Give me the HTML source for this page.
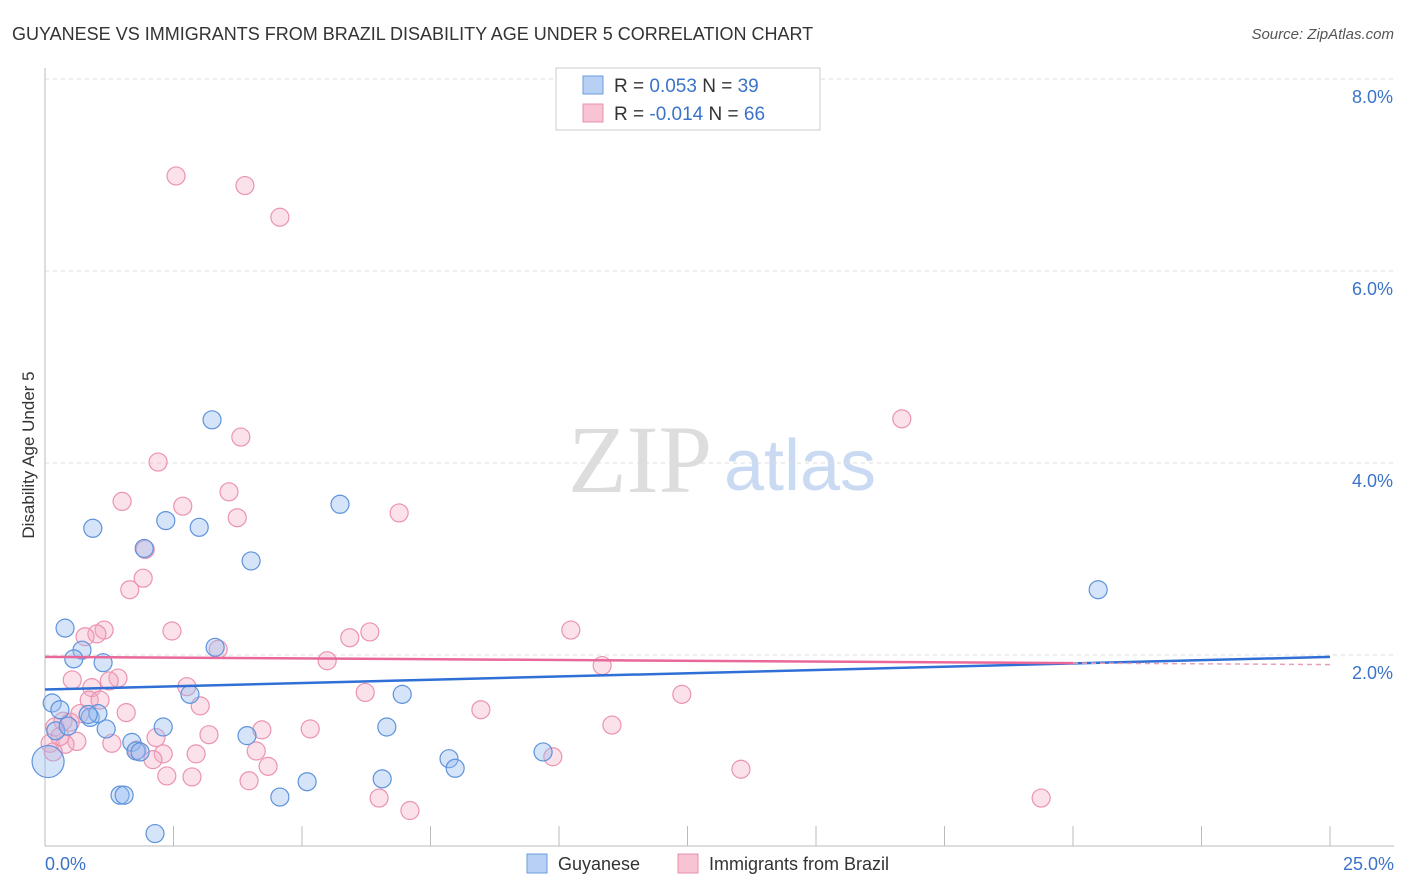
<!DOCTYPE html>
<html><head><meta charset="utf-8"><style>
body{margin:0;background:#fff;font-family:"Liberation Sans",sans-serif}
svg{display:block}
</style></head><body>
<svg id="c" width="1406" height="892">
<text x="12" y="40" font-size="18" fill="#333">GUYANESE VS IMMIGRANTS FROM BRAZIL DISABILITY AGE UNDER 5 CORRELATION CHART</text>
<text x="1394" y="39" font-size="15" fill="#555" font-style="italic" text-anchor="end">Source: ZipAtlas.com</text>
<text x="34" y="455" font-size="17" fill="#333" text-anchor="middle" transform="rotate(-90 34 455)">Disability Age Under 5</text>
<text x="640" y="492" font-size="96" fill="#ddd" font-family="Liberation Serif,serif" text-anchor="middle">ZIP</text>
<text x="800" y="490" font-size="72" fill="#c9daf2" text-anchor="middle">atlas</text>
<g id="grid"></g><g id="pts"></g><g id="lines"></g>
<g>
<rect x="556" y="68" width="264" height="62" fill="#fff" stroke="#ccc"/>
<rect x="583" y="76" width="20" height="18" fill="#b7d0f3" stroke="#6b9be0"/>
<text x="614" y="92" font-size="19" fill="#333">R =  <tspan fill="#3b73c9"> 0.053</tspan>    N = <tspan fill="#3b73c9">39</tspan></text>
<rect x="583" y="104" width="20" height="18" fill="#f8c3d3" stroke="#e991ae"/>
<text x="614" y="120" font-size="19" fill="#333">R =  <tspan fill="#3b73c9">-0.014</tspan>    N = <tspan fill="#3b73c9">66</tspan></text>
</g>
<g>
<rect x="527" y="854" width="20" height="19" fill="#b7d0f3" stroke="#6b9be0"/>
<text x="558" y="870" font-size="18" fill="#333">Guyanese</text>
<rect x="678" y="854" width="20" height="19" fill="#f8c3d3" stroke="#e991ae"/>
<text x="709" y="870" font-size="18" fill="#333">Immigrants from Brazil</text>
</g>
</svg>
<script>
const yTicks=[2,4,6,8];
const xMin=0,xMax=25,yMin=0,yMax=8;
const bluePx=[[212,420],[93,528],[166,521],[199,527],[144,548],[251,561],[340,504],[1098,590],[65,628],[82,650],[74,659],[103,663],[215,647],[190,694],[402,694],[52,703],[60,710],[90,717],[98,714],[106,729],[163,727],[247,736],[387,727],[56,731],[132,742],[136,751],[543,752],[449,759],[455,768],[307,782],[382,779],[280,797],[120,795],[124,795],[155,834],[140,752],[68,726],[88,715]];
const pinkPx=[[176,176],[245,186],[280,217],[241,437],[158,462],[122,501],[183,506],[229,492],[237,518],[399,513],[145,549],[143,578],[130,590],[902,419],[172,631],[104,630],[97,634],[85,637],[218,649],[350,638],[370,632],[571,630],[327,661],[602,666],[187,687],[92,688],[72,680],[118,678],[109,681],[365,692],[682,694],[481,710],[200,706],[89,700],[126,713],[80,714],[63,721],[612,725],[310,729],[262,730],[209,735],[156,738],[77,741],[112,743],[65,744],[50,743],[55,727],[137,750],[163,754],[196,754],[256,751],[153,760],[268,766],[553,757],[741,769],[167,776],[192,777],[249,781],[379,798],[410,811],[1041,798],[53,752],[60,737],[70,722],[100,700]];
// data values (percent) derived from reading the picture
const blueX=bluePx.map(p=>+((p[0]-45)/1285*25).toFixed(2));
const blueY=bluePx.map(p=>+((847-p[1])/96).toFixed(2));
const pinkX=pinkPx.map(p=>+((p[0]-45)/1285*25).toFixed(2));
const pinkY=pinkPx.map(p=>+((847-p[1])/96).toFixed(2));
const blueTrend=[1.64,1.98];
const pinkTrend=[1.98,1.90];
const X=v=>45+(v-xMin)/(xMax-xMin)*1285;
const Y=v=>847-(v-yMin)/(yMax-yMin)*768;
const NS="http://www.w3.org/2000/svg";
function mk(t,a,p){const e=document.createElementNS(NS,t);for(const k in a)e.setAttribute(k,a[k]);p.appendChild(e);return e;}
const g=document.getElementById('grid');
const ax=mk('line',{x1:45,y1:68,x2:45,y2:846,stroke:'#bbb'},g);


const bx=mk('line',{x1:45,y1:846,x2:1394,y2:846,stroke:'#bbb'},g);


yTicks.forEach(t=>{
 const l=mk('line',{x1:45,x2:1394,y1:Y(t),y2:Y(t),stroke:'#ddd','stroke-dasharray':'4,4'},g);
 
 
 const tx=mk('text',{x:1393,y:Y(t)+24,'font-size':18,fill:'#3b73c9','text-anchor':'end'},g);
 tx.textContent=t.toFixed(1)+'%';
 
 
});
for(let i=1;i<=10;i++){const l=mk('line',{x1:X(i*2.5),x2:X(i*2.5),y1:826,y2:846,stroke:'#bbb'},g);
 
 }
const x0=mk('text',{x:45,y:870,'font-size':18,fill:'#3b73c9'},g);x0.textContent='0.0%';


const x1=mk('text',{x:1394,y:870,'font-size':18,fill:'#3b73c9','text-anchor':'end'},g);x1.textContent='25.0%';


const P=document.getElementById('pts');
pinkX.forEach((v,i)=>{const c=mk('circle',{cx:X(v),cy:Y(pinkY[i]),r:9,fill:'rgba(244,168,194,0.35)',stroke:'#eb93b1','stroke-width':1.2},P);
 
 });
blueX.forEach((v,i)=>{const c=mk('circle',{cx:X(v),cy:Y(blueY[i]),r:9,fill:'rgba(150,188,240,0.4)',stroke:'#5e93dc','stroke-width':1.2},P);
 
 });
const big=mk('circle',{cx:X(0.06),cy:Y(0.89),r:16,fill:'rgba(150,188,240,0.4)',stroke:'#5e93dc','stroke-width':1.2},P);


const L=document.getElementById('lines');
const bl=mk('line',{x1:X(0),y1:Y(blueTrend[0]),x2:X(25),y2:Y(blueTrend[1]),stroke:'#2f6fd6','stroke-width':2.5},L);


const pm=pinkTrend[0]+(pinkTrend[1]-pinkTrend[0])*0.8;
const pl=mk('line',{x1:X(0),y1:Y(pinkTrend[0]),x2:X(20),y2:Y(pm),stroke:'#e8689a','stroke-width':2.5},L);


const pd=mk('line',{x1:X(20),y1:Y(pm),x2:X(25),y2:Y(pinkTrend[1]),stroke:'#e8a0b8','stroke-width':1.5,'stroke-dasharray':'5,4'},L);


</script>
</body></html>
